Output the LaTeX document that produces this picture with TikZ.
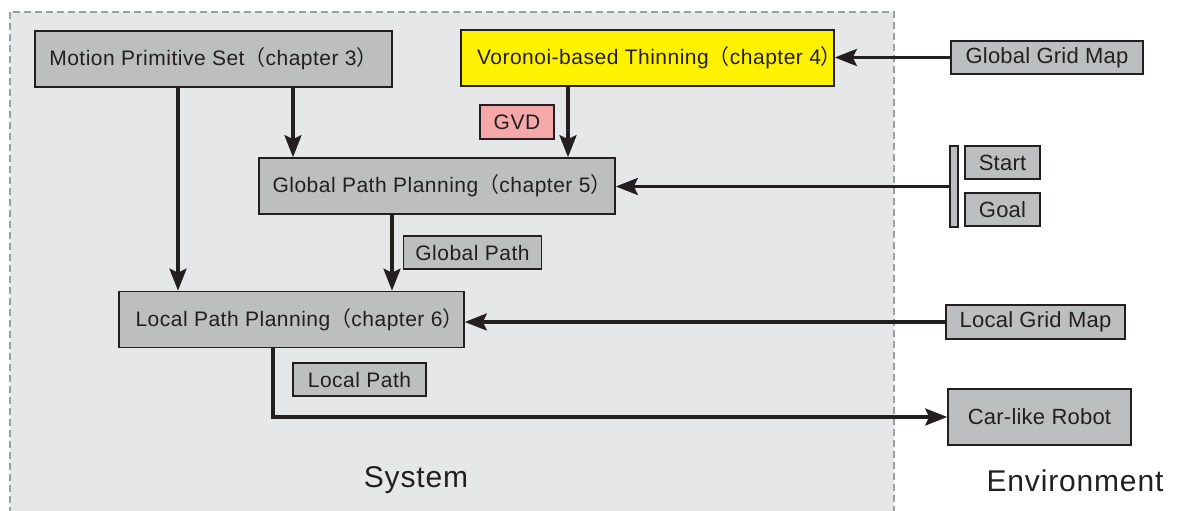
\documentclass[tikz,border=0pt]{standalone}
\usepackage{fontspec}
\setmainfont{Liberation Sans}
\newfontfamily\cjkparen{Noto Sans CJK SC}
\usetikzlibrary{arrows.meta}

\definecolor{ink}{HTML}{231F20}
\definecolor{sysbg}{HTML}{E6E7E8}
\definecolor{boxgray}{HTML}{BCBEC0}
\definecolor{dashgray}{HTML}{9D9FA2}
\definecolor{voryellow}{HTML}{FFF200}
\definecolor{gvdpink}{HTML}{F5A8AA}

% full-width brackets as used in the chapter labels
\newcommand\lpar{{\cjkparen （}}
\newcommand\rpar{{\cjkparen ）}}
% move a label sideways inside its box without changing the box size
\newcommand\nudge[2]{\rlap{\hspace*{#1}#2}\phantom{#2}}

\begin{document}
\begin{tikzpicture}[x=1pt,y=-1pt,
  labfont/.style={font=\fontsize{21}{25}\selectfont\addfontfeatures{LetterSpace=2.4}},
  envfont/.style={font=\fontsize{22}{26}\selectfont\addfontfeatures{LetterSpace=1}},
  blockbox/.style={draw=ink, fill=boxgray, line width=1.6pt, inner sep=0pt,
                   text=ink, anchor=center},
  arr/.style={draw=ink, line width=3.2pt,
              -{Stealth[length=22pt,width=17pt,inset=4pt]}},
  bigtext/.style={font=\fontsize{30}{34}\selectfont\addfontfeatures{LetterSpace=2.8}, text=ink}
]
\useasboundingbox (0,0) rectangle (1178,511);
\fill[white] (0,0) rectangle (1178,511);

% system region
\filldraw[fill=sysbg, draw=dashgray, line width=2pt, dash pattern=on 7pt off 4pt]
  (10,12) rectangle (894,530);

% blocks inside the system
\node[blockbox, labfont, minimum width=357pt, minimum height=56pt] (mps) at (213.5,59)
  {Motion Primitive Set\lpar chapter 3\rpar};
\node[blockbox, labfont, fill=voryellow, minimum width=373pt, minimum height=56pt] (vor) at (647.5,58)
  {\nudge{12pt}{Voronoi-based Thinning\lpar chapter 4\rpar}};
\node[blockbox, labfont, fill=gvdpink, minimum width=74pt, minimum height=34pt] (gvd) at (517,122)
  {GVD};
\node[blockbox, labfont, minimum width=356pt, minimum height=56pt] (gpp) at (437,186)
  {\nudge{5pt}{Global Path Planning\lpar chapter 5\rpar}};
\node[blockbox, labfont, minimum width=138pt, minimum height=33pt] (gpath) at (472.5,252.5)
  {Global Path};
\node[blockbox, labfont, minimum width=345pt, minimum height=56pt] (lpp) at (291.5,319.5)
  {\nudge{8pt}{Local Path Planning\lpar chapter 6\rpar}};
\node[blockbox, labfont, minimum width=133pt, minimum height=33pt] (lpath) at (359.5,379.5)
  {Local Path};

% environment blocks
\node[blockbox, envfont, minimum width=192pt, minimum height=33pt] (ggm) at (1047,57.5)
  {Global Grid Map};
\node[blockbox, minimum width=8pt, minimum height=81pt] (bar) at (954,186.5) {};
\node[blockbox, envfont, minimum width=75pt, minimum height=33pt] (start) at (1002.5,162.5)
  {Start};
\node[blockbox, envfont, minimum width=75pt, minimum height=33pt] (goal) at (1002.5,209.5)
  {Goal};
\node[blockbox, envfont, minimum width=179pt, minimum height=34pt] (lgm) at (1035.5,322)
  {Local Grid Map};
\node[blockbox, envfont, minimum width=183pt, minimum height=56pt] (robot) at (1039.5,417)
  {Car-like Robot};

% region captions
\node[bigtext] (sys) at (416,480) {System};
\node[bigtext] (env) at (1075,481) {Environment};

% vertical drop lines
\coordinate (xa) at (178,0);
\coordinate (xb) at (293,0);
\coordinate (xc) at (568,0);
\coordinate (xd) at (392,0);
\coordinate (xe) at (273,0);

\draw[arr] (xa |- mps.south) -- (xa |- lpp.north);
\draw[arr] (xb |- mps.south) -- (xb |- gpp.north);
\draw[arr] (xc |- vor.south) -- (xc |- gpp.north);
\draw[arr] (xd |- gpp.south) -- (xd |- lpp.north);

% inputs from the environment
\draw[arr] (ggm.west) -- (ggm.west -| vor.east);
\draw[arr] (bar.west) -- (bar.west -| gpp.east);
\draw[arr] (lgm.west) -- (lgm.west -| lpp.east);

% output to the robot
\draw[arr] (xe |- lpp.south) |- (robot.west);
\end{tikzpicture}
\end{document}
